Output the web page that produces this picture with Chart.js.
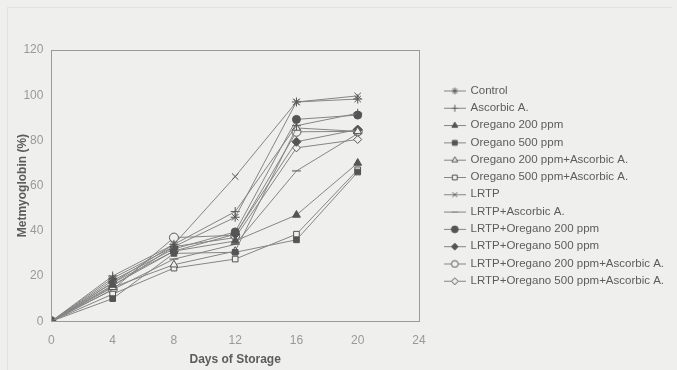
<!DOCTYPE html>
<html>
<head>
<meta charset="utf-8">
<script src="https://cdn.jsdelivr.net/npm/chart.js@4/dist/chart.umd.min.js"></script>
<style>
  html, body { margin: 0; padding: 0; background: #efefed; }
  #wrap { position: relative; width: 677px; height: 370px; background: #efefed; }
  #frame { position: absolute; left: 7px; top: 7px; width: 664px; height: 370px; border-left: 1px solid #e2e2e0; border-top: 1px solid #e2e2e0; }
  canvas { position: absolute; left: 0; top: 0; }
</style>
</head>
<body>
<div id="wrap">
  <div id="frame"></div>
  <canvas id="c" width="677" height="370"></canvas>
</div>
<script>
const days = [0, 4, 8, 12, 16, 20];
const seriesNames = [
  "Control", "Ascorbic A.", "Oregano 200 ppm", "Oregano 500 ppm",
  "Oregano 200 ppm+Ascorbic A.", "Oregano 500 ppm+Ascorbic A.", "LRTP",
  "LRTP+Ascorbic A.", "LRTP+Oregano 200 ppm", "LRTP+Oregano 500 ppm",
  "LRTP+Oregano 200 ppm+Ascorbic A.", "LRTP+Oregano 500 ppm+Ascorbic A."
];
const control        = [0, 19,   33,   46,   97,   98.3];
const ascorbic       = [0, 20,   34,   48.5, 86.5, 92];
const oregano200     = [0, 16,   31,   35.5, 47,   70];
const oregano500     = [0, 10,   30,   30.5, 36,   66];
const oregano200Asc  = [0, 15,   25,   31,   85.5, 84];
const oregano500Asc  = [0, 12,   23.5, 27.5, 38.5, 67];
const lrtp           = [0, 17,   34,   64,   97,   99.7];
const lrtpAsc        = [0, 14,   27.5, 34,   66.5, 83];
const lrtpOreg200    = [0, 18,   32,   39.5, 89.3, 91.2];
const lrtpOreg500    = [0, 17,   31,   38.5, 79.4, 84.8];
const lrtpOreg200Asc = [0, 14,   37,   38,   83.8, 84];
const lrtpOreg500Asc = [0, 15.5, 33,   37,   76.7, 80.4];
const xTicks = [0, 4, 8, 12, 16, 20, 24];
const yTicks = [0, 20, 40, 60, 80, 100, 120];

const allValues = [control, ascorbic, oregano200, oregano500, oregano200Asc, oregano500Asc,
  lrtp, lrtpAsc, lrtpOreg200, lrtpOreg500, lrtpOreg200Asc, lrtpOreg500Asc];
const styles = ['star', 'cross', 'triangle', 'rect', 'triangle', 'rect', 'crossRot', 'line', 'circle', 'rectRot', 'circle', 'rectRot'];
const filled = [true, true, true, true, false, false, true, true, true, true, false, false];
const radii = [4.5, 4.5, 4.5, 4, 4.5, 4, 4.5, 4.5, 4, 4.5, 4.5, 4];

const BG = '#efefed';
const LINE = '#858585';
const MARK = '#555555';
const FONT = 'Liberation Sans, Arial, sans-serif';

function legendIcon(i) {
  const cv = document.createElement('canvas');
  cv.width = 22; cv.height = 10;
  const ctx = cv.getContext('2d');
  ctx.strokeStyle = LINE; ctx.lineWidth = 1;
  ctx.beginPath(); ctx.moveTo(0, 5.5); ctx.lineTo(22, 5.5); ctx.stroke();
  ctx.fillStyle = filled[i] ? MARK : BG;
  ctx.strokeStyle = MARK;
  Chart.helpers.drawPoint(ctx, { pointStyle: styles[i], radius: 3.4, borderWidth: 1, rotation: 0 }, 11, 5.5);
  return cv;
}

const datasets = allValues.map((vals, i) => ({
  label: seriesNames[i],
  data: days.map((d, k) => ({ x: d, y: vals[k] })),
  borderColor: LINE,
  borderWidth: 1,
  pointStyle: styles[i],
  pointRadius: radii[i],
  pointBorderColor: MARK,
  pointBackgroundColor: filled[i] ? MARK : BG,
  pointBorderWidth: 1,
  tension: 0,
  fill: false
}));

const frameBox = {
  id: 'frameBox',
  afterDraw(chart) {
    const { ctx, chartArea: a } = chart;
    ctx.save();
    ctx.strokeStyle = '#9a9a9a';
    ctx.lineWidth = 1;
    ctx.strokeRect(Math.round(a.left) + 0.5, Math.round(a.top) + 0.5, Math.round(a.right - a.left), Math.round(a.bottom - a.top));
    ctx.restore();
  }
};

new Chart(document.getElementById('c'), {
  type: 'line',
  data: { datasets },
  options: {
    responsive: false,
    animation: false,
    layout: { padding: { left: 15, top: 50, right: 3, bottom: 3 } },
    plugins: {
      legend: {
        position: 'right',
        align: 'center',
        fullSize: false,
        maxWidth: 260,
        labels: {
          usePointStyle: true,
          pointStyleWidth: 20,
          boxWidth: 20,
          boxHeight: 11.5,
          padding: 5.8,
          color: '#5c5c5c',
          font: { family: FONT, size: 11.5 },
          generateLabels(chart) {
            const items = Chart.defaults.plugins.legend.labels.generateLabels(chart);
            items.forEach((it, i) => { it.pointStyle = legendIcon(i); });
            return items;
          }
        }
      },
      tooltip: { enabled: false }
    },
    scales: {
      x: {
        type: 'linear',
        min: 0, max: 24,
        afterBuildTicks(axis) { axis.ticks = xTicks.map(v => ({ value: v })); },
        grid: { display: false, drawTicks: false },
        border: { display: true, color: '#9a9a9a' },
        ticks: { color: '#999', font: { family: FONT, size: 12 }, padding: 12 },
        title: { display: true, text: 'Days of Storage', color: '#5c5c5c', font: { family: FONT, size: 12, weight: 'bold' }, padding: { top: -7, bottom: 0 } }
      },
      y: {
        min: 0, max: 120,
        afterBuildTicks(axis) { axis.ticks = yTicks.map(v => ({ value: v })); },
        grid: { display: false, drawTicks: false },
        border: { display: true, color: '#9a9a9a' },
        ticks: { color: '#999', font: { family: FONT, size: 12 }, padding: 8 },
        title: { display: true, text: 'Metmyoglobin (%)', color: '#5c5c5c', font: { family: FONT, size: 12, weight: 'bold' }, padding: { top: 0, bottom: -14 } }
      },
      gap: {
        type: 'linear',
        position: 'right',
        display: true,
        grid: { display: false, drawTicks: false },
        border: { display: false },
        ticks: { display: false },
        afterFit(axis) { axis.width = 20; }
      }
    }
  },
  plugins: [frameBox]
});
</script>
</body>
</html>
